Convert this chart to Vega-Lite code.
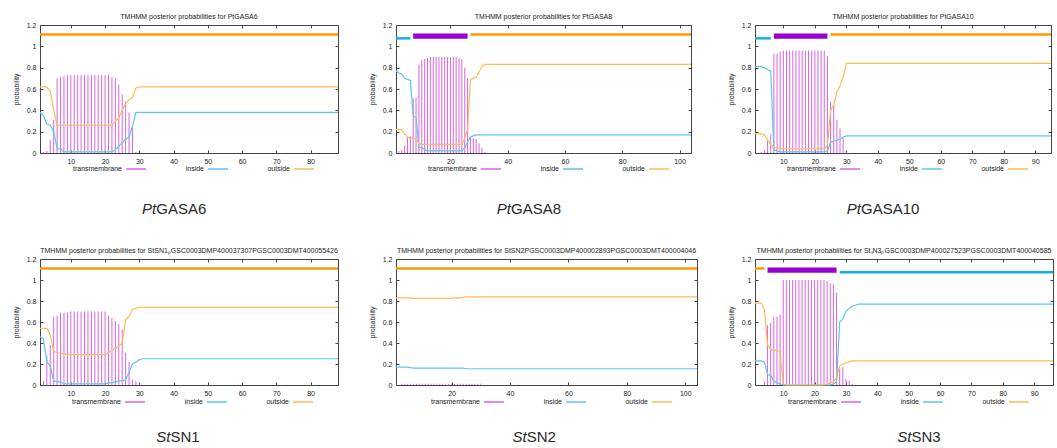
{
"$schema":"https://vega.github.io/schema/vega-lite/v6.json",
"padding":{"left":11,"top":12,"right":0,"bottom":0},
"background":"white",
"config":{
 "font":"Liberation Sans",
 "view":{"stroke":"#444","strokeWidth":1},
 "axis":{"labelFontSize":7,"labelColor":"#222","titleFontSize":7,"titleFontWeight":"normal","titleColor":"#222","domain":false,"grid":false,"tickColor":"#444","tickSize":-3,"labelPadding":7,"titlePadding":7},
 "title":{"fontSize":7,"fontWeight":"normal","color":"#222","offset":1},
 "legend":{"direction":"horizontal","symbolType":"stroke","symbolSize":400,"symbolStrokeWidth":1.5,"labelFontSize":7,"labelColor":"#222","columnPadding":36,"padding":0,"labelAlign":"right","labelOffset":-25}
},
"datasets":{
"caps":[{"p":"A","sp":"Pt","gene":"GASA6"},{"p":"B","sp":"Pt","gene":"GASA8"},{"p":"C","sp":"Pt","gene":"GASA10"},{"p":"D","sp":"St","gene":"SN1"},{"p":"E","sp":"St","gene":"SN2"},{"p":"F","sp":"St","gene":"SN3"}],
"segs":[
{"p":"A","kind":"outside","start":1,"end":88},
{"p":"B","kind":"inside","start":1,"end":6},{"p":"B","kind":"tm","start":7,"end":26},{"p":"B","kind":"outside","start":27,"end":104},
{"p":"C","kind":"inside","start":1,"end":6},{"p":"C","kind":"tm","start":7,"end":24},{"p":"C","kind":"outside","start":25,"end":95},
{"p":"D","kind":"outside","start":1,"end":88},
{"p":"E","kind":"outside","start":1,"end":104},
{"p":"F","kind":"outside","start":1,"end":4},{"p":"F","kind":"tm","start":5,"end":27},{"p":"F","kind":"inside","start":28,"end":96}
],
"prob":[
{"p":"A","x":1,"tm":0,"in":0.38,"out":0.62},{"p":"A","x":2,"tm":0.01,"in":0.35,"out":0.62},{"p":"A","x":3,"tm":0.02,"in":0.27,"out":0.62},{"p":"A","x":4,"tm":0.12,"in":0.26,"out":0.58},{"p":"A","x":5,"tm":0.31,"in":0.2,"out":0.4},{"p":"A","x":6,"tm":0.7,"in":0.04,"out":0.26},{"p":"A","x":7,"tm":0.71,"in":0.04,"out":0.26},{"p":"A","x":8,"tm":0.72,"in":0.01,"out":0.26},{"p":"A","x":9,"tm":0.73,"in":0.01,"out":0.26},{"p":"A","x":10,"tm":0.73,"in":0.01,"out":0.26},{"p":"A","x":11,"tm":0.73,"in":0.01,"out":0.26},{"p":"A","x":12,"tm":0.73,"in":0.01,"out":0.26},{"p":"A","x":13,"tm":0.73,"in":0.01,"out":0.26},{"p":"A","x":14,"tm":0.73,"in":0.01,"out":0.26},{"p":"A","x":15,"tm":0.73,"in":0.01,"out":0.26},{"p":"A","x":16,"tm":0.73,"in":0.01,"out":0.26},{"p":"A","x":17,"tm":0.73,"in":0.01,"out":0.26},{"p":"A","x":18,"tm":0.73,"in":0.01,"out":0.26},{"p":"A","x":19,"tm":0.73,"in":0.01,"out":0.26},{"p":"A","x":20,"tm":0.73,"in":0.01,"out":0.26},{"p":"A","x":21,"tm":0.73,"in":0.01,"out":0.26},{"p":"A","x":22,"tm":0.71,"in":0.01,"out":0.26},{"p":"A","x":23,"tm":0.7,"in":0.03,"out":0.3},{"p":"A","x":24,"tm":0.64,"in":0.06,"out":0.33},{"p":"A","x":25,"tm":0.55,"in":0.1,"out":0.4},{"p":"A","x":26,"tm":0.48,"in":0.13,"out":0.46},{"p":"A","x":27,"tm":0.38,"in":0.15,"out":0.5},{"p":"A","x":28,"tm":0.24,"in":0.25,"out":0.52},{"p":"A","x":29,"tm":0.01,"in":0.38,"out":0.61},{"p":"A","x":30,"tm":0,"in":0.38,"out":0.62},{"p":"A","x":88,"tm":0,"in":0.38,"out":0.62},
{"p":"B","x":1,"tm":0,"in":0.77,"out":0.22},{"p":"B","x":2,"tm":0.02,"in":0.75,"out":0.22},{"p":"B","x":3,"tm":0.03,"in":0.74,"out":0.22},{"p":"B","x":4,"tm":0.07,"in":0.7,"out":0.18},{"p":"B","x":5,"tm":0.15,"in":0.69,"out":0.15},{"p":"B","x":6,"tm":0.16,"in":0.68,"out":0.14},{"p":"B","x":7,"tm":0.51,"in":0.35,"out":0.14},{"p":"B","x":8,"tm":0.52,"in":0.33,"out":0.13},{"p":"B","x":9,"tm":0.83,"in":0.05,"out":0.09},{"p":"B","x":10,"tm":0.87,"in":0.05,"out":0.08},{"p":"B","x":11,"tm":0.88,"in":0.03,"out":0.08},{"p":"B","x":12,"tm":0.89,"in":0.02,"out":0.08},{"p":"B","x":13,"tm":0.9,"in":0.02,"out":0.08},{"p":"B","x":14,"tm":0.9,"in":0.02,"out":0.08},{"p":"B","x":15,"tm":0.9,"in":0.02,"out":0.08},{"p":"B","x":16,"tm":0.9,"in":0.02,"out":0.08},{"p":"B","x":17,"tm":0.9,"in":0.02,"out":0.08},{"p":"B","x":18,"tm":0.9,"in":0.02,"out":0.08},{"p":"B","x":19,"tm":0.9,"in":0.02,"out":0.08},{"p":"B","x":20,"tm":0.9,"in":0.02,"out":0.08},{"p":"B","x":21,"tm":0.9,"in":0.02,"out":0.08},{"p":"B","x":22,"tm":0.9,"in":0.02,"out":0.08},{"p":"B","x":23,"tm":0.89,"in":0.02,"out":0.08},{"p":"B","x":24,"tm":0.88,"in":0.02,"out":0.08},{"p":"B","x":25,"tm":0.8,"in":0.05,"out":0.14},{"p":"B","x":26,"tm":0.7,"in":0.1,"out":0.22},{"p":"B","x":27,"tm":0.15,"in":0.15,"out":0.69},{"p":"B","x":28,"tm":0.14,"in":0.16,"out":0.7},{"p":"B","x":29,"tm":0.13,"in":0.17,"out":0.71},{"p":"B","x":30,"tm":0.09,"in":0.17,"out":0.76},{"p":"B","x":31,"tm":0.05,"in":0.17,"out":0.81},{"p":"B","x":32,"tm":0.01,"in":0.17,"out":0.83},{"p":"B","x":33,"tm":0,"in":0.17,"out":0.83},{"p":"B","x":104,"tm":0,"in":0.17,"out":0.83},
{"p":"C","x":1,"tm":0,"in":0.81,"out":0.18},{"p":"C","x":2,"tm":0,"in":0.81,"out":0.18},{"p":"C","x":3,"tm":0.01,"in":0.81,"out":0.18},{"p":"C","x":4,"tm":0.03,"in":0.8,"out":0.17},{"p":"C","x":5,"tm":0.12,"in":0.78,"out":0.12},{"p":"C","x":6,"tm":0.17,"in":0.77,"out":0.08},{"p":"C","x":7,"tm":0.93,"in":0.03,"out":0.05},{"p":"C","x":8,"tm":0.93,"in":0.02,"out":0.05},{"p":"C","x":9,"tm":0.95,"in":0.01,"out":0.04},{"p":"C","x":10,"tm":0.96,"in":0.01,"out":0.04},{"p":"C","x":11,"tm":0.96,"in":0.01,"out":0.04},{"p":"C","x":12,"tm":0.96,"in":0.01,"out":0.04},{"p":"C","x":13,"tm":0.96,"in":0.01,"out":0.04},{"p":"C","x":14,"tm":0.96,"in":0.01,"out":0.04},{"p":"C","x":15,"tm":0.96,"in":0.01,"out":0.04},{"p":"C","x":16,"tm":0.96,"in":0.01,"out":0.04},{"p":"C","x":17,"tm":0.96,"in":0.01,"out":0.04},{"p":"C","x":18,"tm":0.96,"in":0.01,"out":0.04},{"p":"C","x":19,"tm":0.96,"in":0.01,"out":0.04},{"p":"C","x":20,"tm":0.96,"in":0.01,"out":0.04},{"p":"C","x":21,"tm":0.96,"in":0.01,"out":0.04},{"p":"C","x":22,"tm":0.96,"in":0.01,"out":0.04},{"p":"C","x":23,"tm":0.96,"in":0.01,"out":0.04},{"p":"C","x":24,"tm":0.91,"in":0.02,"out":0.07},{"p":"C","x":25,"tm":0.48,"in":0.1,"out":0.4},{"p":"C","x":26,"tm":0.45,"in":0.11,"out":0.45},{"p":"C","x":27,"tm":0.31,"in":0.12,"out":0.57},{"p":"C","x":28,"tm":0.23,"in":0.13,"out":0.63},{"p":"C","x":29,"tm":0.14,"in":0.15,"out":0.71},{"p":"C","x":30,"tm":0.01,"in":0.16,"out":0.84},{"p":"C","x":31,"tm":0,"in":0.16,"out":0.84},{"p":"C","x":95,"tm":0,"in":0.16,"out":0.84},
{"p":"D","x":1,"tm":0,"in":0.46,"out":0.54},{"p":"D","x":2,"tm":0.04,"in":0.44,"out":0.54},{"p":"D","x":3,"tm":0.28,"in":0.22,"out":0.54},{"p":"D","x":4,"tm":0.38,"in":0.18,"out":0.48},{"p":"D","x":5,"tm":0.65,"in":0.04,"out":0.32},{"p":"D","x":6,"tm":0.66,"in":0.03,"out":0.31},{"p":"D","x":7,"tm":0.69,"in":0.03,"out":0.3},{"p":"D","x":8,"tm":0.69,"in":0.01,"out":0.3},{"p":"D","x":9,"tm":0.69,"in":0.01,"out":0.29},{"p":"D","x":10,"tm":0.7,"in":0.01,"out":0.29},{"p":"D","x":11,"tm":0.7,"in":0.01,"out":0.29},{"p":"D","x":12,"tm":0.7,"in":0.01,"out":0.29},{"p":"D","x":13,"tm":0.7,"in":0.01,"out":0.29},{"p":"D","x":14,"tm":0.7,"in":0.01,"out":0.29},{"p":"D","x":15,"tm":0.7,"in":0.01,"out":0.29},{"p":"D","x":16,"tm":0.7,"in":0.01,"out":0.29},{"p":"D","x":17,"tm":0.7,"in":0.01,"out":0.29},{"p":"D","x":18,"tm":0.7,"in":0.01,"out":0.29},{"p":"D","x":19,"tm":0.7,"in":0.01,"out":0.29},{"p":"D","x":20,"tm":0.7,"in":0.01,"out":0.29},{"p":"D","x":21,"tm":0.66,"in":0.02,"out":0.31},{"p":"D","x":22,"tm":0.64,"in":0.02,"out":0.33},{"p":"D","x":23,"tm":0.61,"in":0.03,"out":0.35},{"p":"D","x":24,"tm":0.58,"in":0.04,"out":0.37},{"p":"D","x":25,"tm":0.53,"in":0.04,"out":0.4},{"p":"D","x":26,"tm":0.31,"in":0.05,"out":0.62},{"p":"D","x":27,"tm":0.22,"in":0.12,"out":0.65},{"p":"D","x":28,"tm":0.05,"in":0.2,"out":0.72},{"p":"D","x":29,"tm":0.04,"in":0.22,"out":0.73},{"p":"D","x":30,"tm":0.01,"in":0.24,"out":0.74},{"p":"D","x":31,"tm":0,"in":0.25,"out":0.74},{"p":"D","x":88,"tm":0,"in":0.25,"out":0.74},
{"p":"E","x":1,"tm":0,"in":0.17,"out":0.83},{"p":"E","x":2,"tm":0,"in":0.17,"out":0.83},{"p":"E","x":3,"tm":0.012,"in":0.17,"out":0.83},{"p":"E","x":4,"tm":0.012,"in":0.17,"out":0.83},{"p":"E","x":5,"tm":0.012,"in":0.17,"out":0.83},{"p":"E","x":6,"tm":0.012,"in":0.165,"out":0.83},{"p":"E","x":7,"tm":0.012,"in":0.16,"out":0.825},{"p":"E","x":8,"tm":0.012,"in":0.16,"out":0.825},{"p":"E","x":9,"tm":0.012,"in":0.16,"out":0.825},{"p":"E","x":10,"tm":0.012,"in":0.16,"out":0.825},{"p":"E","x":11,"tm":0.012,"in":0.16,"out":0.825},{"p":"E","x":12,"tm":0.012,"in":0.16,"out":0.825},{"p":"E","x":13,"tm":0.012,"in":0.16,"out":0.825},{"p":"E","x":14,"tm":0.012,"in":0.16,"out":0.825},{"p":"E","x":15,"tm":0.012,"in":0.16,"out":0.825},{"p":"E","x":16,"tm":0.012,"in":0.16,"out":0.825},{"p":"E","x":17,"tm":0.012,"in":0.16,"out":0.825},{"p":"E","x":18,"tm":0.012,"in":0.16,"out":0.825},{"p":"E","x":19,"tm":0.012,"in":0.16,"out":0.825},{"p":"E","x":20,"tm":0.012,"in":0.16,"out":0.825},{"p":"E","x":21,"tm":0.012,"in":0.16,"out":0.83},{"p":"E","x":22,"tm":0.012,"in":0.16,"out":0.83},{"p":"E","x":23,"tm":0.012,"in":0.16,"out":0.83},{"p":"E","x":24,"tm":0.012,"in":0.16,"out":0.835},{"p":"E","x":25,"tm":0.012,"in":0.155,"out":0.84},{"p":"E","x":26,"tm":0.012,"in":0.155,"out":0.84},{"p":"E","x":27,"tm":0.012,"in":0.155,"out":0.84},{"p":"E","x":28,"tm":0.012,"in":0.155,"out":0.84},{"p":"E","x":29,"tm":0.012,"in":0.155,"out":0.84},{"p":"E","x":30,"tm":0.012,"in":0.155,"out":0.84},{"p":"E","x":104,"tm":0,"in":0.155,"out":0.84},
{"p":"F","x":1,"tm":0,"in":0.23,"out":0.78},{"p":"F","x":2,"tm":0,"in":0.23,"out":0.78},{"p":"F","x":3,"tm":0,"in":0.23,"out":0.78},{"p":"F","x":4,"tm":0.035,"in":0.22,"out":0.72},{"p":"F","x":5,"tm":0.57,"in":0.1,"out":0.38},{"p":"F","x":6,"tm":0.59,"in":0.09,"out":0.34},{"p":"F","x":7,"tm":0.65,"in":0.04,"out":0.33},{"p":"F","x":8,"tm":0.65,"in":0.02,"out":0.33},{"p":"F","x":9,"tm":0.67,"in":0.01,"out":0.32},{"p":"F","x":10,"tm":1,"in":0,"out":0.01},{"p":"F","x":11,"tm":1,"in":0,"out":0},{"p":"F","x":12,"tm":1,"in":0,"out":0},{"p":"F","x":13,"tm":1,"in":0,"out":0},{"p":"F","x":14,"tm":1,"in":0,"out":0},{"p":"F","x":15,"tm":1,"in":0,"out":0},{"p":"F","x":16,"tm":1,"in":0,"out":0},{"p":"F","x":17,"tm":1,"in":0,"out":0},{"p":"F","x":18,"tm":1,"in":0,"out":0},{"p":"F","x":19,"tm":1,"in":0,"out":0},{"p":"F","x":20,"tm":1,"in":0,"out":0},{"p":"F","x":21,"tm":1,"in":0,"out":0},{"p":"F","x":22,"tm":1,"in":0,"out":0},{"p":"F","x":23,"tm":1,"in":0,"out":0},{"p":"F","x":24,"tm":0.99,"in":0,"out":0.01},{"p":"F","x":25,"tm":0.97,"in":0,"out":0.02},{"p":"F","x":26,"tm":0.96,"in":0.01,"out":0.03},{"p":"F","x":27,"tm":0.88,"in":0.03,"out":0.07},{"p":"F","x":28,"tm":0.16,"in":0.6,"out":0.18},{"p":"F","x":29,"tm":0.17,"in":0.63,"out":0.2},{"p":"F","x":30,"tm":0.06,"in":0.7,"out":0.21},{"p":"F","x":31,"tm":0.04,"in":0.73,"out":0.22},{"p":"F","x":32,"tm":0.01,"in":0.75,"out":0.23},{"p":"F","x":33,"tm":0,"in":0.76,"out":0.23},{"p":"F","x":34,"tm":0,"in":0.77,"out":0.23},{"p":"F","x":96,"tm":0,"in":0.77,"out":0.23}
]
},
"columns":3,
"align":"each",
"bounds":"flush",
"spacing":{"row":20,"column":58},
"resolve":{"scale":{"color":"independent"},"legend":{"color":"independent"}},
"concat":[
  {"width":298,"height":128,"title":"TMHMM posterior probabilities for PtGASA6","resolve":{"axis":{"x":"independent","y":"independent"}},"layer":[
   {"data":{"name":"prob"},"transform":[{"filter":"datum.p=='A'"}],"mark":{"type":"rule","strokeWidth":1},"encoding":{"x":{"field":"x","type":"quantitative","scale":{"domain":[1,88],"nice":false,"zero":false},"axis":{"values":[10,20,30,40,50,60,70,80],"title":null,"format":"d"}},"y":{"field":"tm","type":"quantitative","scale":{"domain":[0,1.2],"nice":false},"axis":{"values":[0,0.2,0.4,0.6,0.8,1,1.2],"format":"~g","title":"probability"}},"y2":{"datum":0},"color":{"datum":"transmembrane","type":"nominal","scale":{"domain":["transmembrane","inside","outside"],"range":["#d965e3","#5cc6ee","#ffbb55"]},"legend":{"title":null,"orient":"none","legendX":85,"legendY":133}}}},
   {"data":{"name":"prob"},"transform":[{"filter":"datum.p=='A'"}],"mark":{"type":"line","strokeWidth":1.2},"encoding":{"x":{"field":"x","type":"quantitative","axis":{"orient":"top","labels":false,"title":null,"values":[10,20,30,40,50,60,70,80]}},"y":{"field":"in","type":"quantitative","axis":{"orient":"right","labels":false,"title":null,"values":[0,0.2,0.4,0.6,0.8,1,1.2]}},"color":{"datum":"inside","type":"nominal"}}},
   {"data":{"name":"prob"},"transform":[{"filter":"datum.p=='A'"}],"mark":{"type":"line","strokeWidth":1.2},"encoding":{"x":{"field":"x","type":"quantitative","axis":null},"y":{"field":"out","type":"quantitative","axis":null},"color":{"datum":"outside","type":"nominal"}}},
   {"data":{"name":"segs"},"transform":[{"filter":"datum.p=='A' && datum.kind=='outside'"}],"mark":{"type":"rule","strokeWidth":2.5,"color":"#ff9900"},"encoding":{"x":{"field":"start","type":"quantitative","axis":null},"x2":{"field":"end"},"y":{"datum":1.11,"type":"quantitative","axis":null}}},
   {"data":{"name":"segs"},"transform":[{"filter":"datum.p=='A' && datum.kind=='inside'"}],"mark":{"type":"rule","strokeWidth":2.5,"color":"#14b0e4"},"encoding":{"x":{"field":"start","type":"quantitative","axis":null},"x2":{"field":"end"},"y":{"datum":1.075,"type":"quantitative","axis":null}}},
   {"data":{"name":"segs"},"transform":[{"filter":"datum.p=='A' && datum.kind=='tm'"}],"mark":{"type":"rect","color":"#9a00d0"},"encoding":{"x":{"field":"start","type":"quantitative","axis":null},"x2":{"field":"end"},"y":{"datum":1.07,"type":"quantitative","axis":null},"y2":{"datum":1.12}}}
  ]},
  {"width":295,"height":128,"title":"TMHMM posterior probabilities for PtGASA8","resolve":{"axis":{"x":"independent","y":"independent"}},"layer":[
   {"data":{"name":"prob"},"transform":[{"filter":"datum.p=='B'"}],"mark":{"type":"rule","strokeWidth":1},"encoding":{"x":{"field":"x","type":"quantitative","scale":{"domain":[1,104],"nice":false,"zero":false},"axis":{"values":[20,40,60,80,100],"title":null,"format":"d"}},"y":{"field":"tm","type":"quantitative","scale":{"domain":[0,1.2],"nice":false},"axis":{"values":[0,0.2,0.4,0.6,0.8,1,1.2],"format":"~g","title":"probability"}},"y2":{"datum":0},"color":{"datum":"transmembrane","type":"nominal","scale":{"domain":["transmembrane","inside","outside"],"range":["#d965e3","#5cc6ee","#ffbb55"]},"legend":{"title":null,"orient":"none","legendX":84,"legendY":133}}}},
   {"data":{"name":"prob"},"transform":[{"filter":"datum.p=='B'"}],"mark":{"type":"line","strokeWidth":1.2},"encoding":{"x":{"field":"x","type":"quantitative","axis":{"orient":"top","labels":false,"title":null,"values":[20,40,60,80,100]}},"y":{"field":"in","type":"quantitative","axis":{"orient":"right","labels":false,"title":null,"values":[0,0.2,0.4,0.6,0.8,1,1.2]}},"color":{"datum":"inside","type":"nominal"}}},
   {"data":{"name":"prob"},"transform":[{"filter":"datum.p=='B'"}],"mark":{"type":"line","strokeWidth":1.2},"encoding":{"x":{"field":"x","type":"quantitative","axis":null},"y":{"field":"out","type":"quantitative","axis":null},"color":{"datum":"outside","type":"nominal"}}},
   {"data":{"name":"segs"},"transform":[{"filter":"datum.p=='B' && datum.kind=='outside'"}],"mark":{"type":"rule","strokeWidth":2.5,"color":"#ff9900"},"encoding":{"x":{"field":"start","type":"quantitative","axis":null},"x2":{"field":"end"},"y":{"datum":1.11,"type":"quantitative","axis":null}}},
   {"data":{"name":"segs"},"transform":[{"filter":"datum.p=='B' && datum.kind=='inside'"}],"mark":{"type":"rule","strokeWidth":2.5,"color":"#14b0e4"},"encoding":{"x":{"field":"start","type":"quantitative","axis":null},"x2":{"field":"end"},"y":{"datum":1.075,"type":"quantitative","axis":null}}},
   {"data":{"name":"segs"},"transform":[{"filter":"datum.p=='B' && datum.kind=='tm'"}],"mark":{"type":"rect","color":"#9a00d0"},"encoding":{"x":{"field":"start","type":"quantitative","axis":null},"x2":{"field":"end"},"y":{"datum":1.07,"type":"quantitative","axis":null},"y2":{"datum":1.12}}}
  ]},
  {"width":296,"height":128,"title":"TMHMM posterior probabilities for PtGASA10","resolve":{"axis":{"x":"independent","y":"independent"}},"layer":[
   {"data":{"name":"prob"},"transform":[{"filter":"datum.p=='C'"}],"mark":{"type":"rule","strokeWidth":1},"encoding":{"x":{"field":"x","type":"quantitative","scale":{"domain":[1,95],"nice":false,"zero":false},"axis":{"values":[10,20,30,40,50,60,70,80,90],"title":null,"format":"d"}},"y":{"field":"tm","type":"quantitative","scale":{"domain":[0,1.2],"nice":false},"axis":{"values":[0,0.2,0.4,0.6,0.8,1,1.2],"format":"~g","title":"probability"}},"y2":{"datum":0},"color":{"datum":"transmembrane","type":"nominal","scale":{"domain":["transmembrane","inside","outside"],"range":["#d965e3","#5cc6ee","#ffbb55"]},"legend":{"title":null,"orient":"none","legendX":84,"legendY":133}}}},
   {"data":{"name":"prob"},"transform":[{"filter":"datum.p=='C'"}],"mark":{"type":"line","strokeWidth":1.2},"encoding":{"x":{"field":"x","type":"quantitative","axis":{"orient":"top","labels":false,"title":null,"values":[10,20,30,40,50,60,70,80,90]}},"y":{"field":"in","type":"quantitative","axis":{"orient":"right","labels":false,"title":null,"values":[0,0.2,0.4,0.6,0.8,1,1.2]}},"color":{"datum":"inside","type":"nominal"}}},
   {"data":{"name":"prob"},"transform":[{"filter":"datum.p=='C'"}],"mark":{"type":"line","strokeWidth":1.2},"encoding":{"x":{"field":"x","type":"quantitative","axis":null},"y":{"field":"out","type":"quantitative","axis":null},"color":{"datum":"outside","type":"nominal"}}},
   {"data":{"name":"segs"},"transform":[{"filter":"datum.p=='C' && datum.kind=='outside'"}],"mark":{"type":"rule","strokeWidth":2.5,"color":"#ff9900"},"encoding":{"x":{"field":"start","type":"quantitative","axis":null},"x2":{"field":"end"},"y":{"datum":1.11,"type":"quantitative","axis":null}}},
   {"data":{"name":"segs"},"transform":[{"filter":"datum.p=='C' && datum.kind=='inside'"}],"mark":{"type":"rule","strokeWidth":2.5,"color":"#14b0e4"},"encoding":{"x":{"field":"start","type":"quantitative","axis":null},"x2":{"field":"end"},"y":{"datum":1.075,"type":"quantitative","axis":null}}},
   {"data":{"name":"segs"},"transform":[{"filter":"datum.p=='C' && datum.kind=='tm'"}],"mark":{"type":"rect","color":"#9a00d0"},"encoding":{"x":{"field":"start","type":"quantitative","axis":null},"x2":{"field":"end"},"y":{"datum":1.07,"type":"quantitative","axis":null},"y2":{"datum":1.12}}}
  ]},
  {"width":298,"height":66,"view":{"stroke":null},"data":{"name":"caps"},"transform":[{"filter":"datum.p=='A'"}],"layer":[
   {"mark":{"type":"text","align":"right","fontStyle":"italic","fontSize":15,"color":"#2a2a2a","dy":3},"encoding":{"text":{"field":"sp"},"x":{"datum":0.39,"type":"quantitative","scale":{"domain":[0,1],"nice":false},"axis":null}}},
   {"mark":{"type":"text","align":"left","fontSize":15,"color":"#2a2a2a","dy":3},"encoding":{"text":{"field":"gene"},"x":{"datum":0.39,"type":"quantitative","axis":null}}}
  ]},
  {"width":295,"height":66,"view":{"stroke":null},"data":{"name":"caps"},"transform":[{"filter":"datum.p=='B'"}],"layer":[
   {"mark":{"type":"text","align":"right","fontStyle":"italic","fontSize":15,"color":"#2a2a2a","dy":3},"encoding":{"text":{"field":"sp"},"x":{"datum":0.39,"type":"quantitative","scale":{"domain":[0,1],"nice":false},"axis":null}}},
   {"mark":{"type":"text","align":"left","fontSize":15,"color":"#2a2a2a","dy":3},"encoding":{"text":{"field":"gene"},"x":{"datum":0.39,"type":"quantitative","axis":null}}}
  ]},
  {"width":296,"height":66,"view":{"stroke":null},"data":{"name":"caps"},"transform":[{"filter":"datum.p=='C'"}],"layer":[
   {"mark":{"type":"text","align":"right","fontStyle":"italic","fontSize":15,"color":"#2a2a2a","dy":3},"encoding":{"text":{"field":"sp"},"x":{"datum":0.358,"type":"quantitative","scale":{"domain":[0,1],"nice":false},"axis":null}}},
   {"mark":{"type":"text","align":"left","fontSize":15,"color":"#2a2a2a","dy":3},"encoding":{"text":{"field":"gene"},"x":{"datum":0.358,"type":"quantitative","axis":null}}}
  ]},
  {"width":298,"height":126,"title":"TMHMM posterior probabilities for StSN1ₚGSC0003DMP400037307PGSC0003DMT400055426","resolve":{"axis":{"x":"independent","y":"independent"}},"layer":[
   {"data":{"name":"prob"},"transform":[{"filter":"datum.p=='D'"}],"mark":{"type":"rule","strokeWidth":1},"encoding":{"x":{"field":"x","type":"quantitative","scale":{"domain":[1,88],"nice":false,"zero":false},"axis":{"values":[10,20,30,40,50,60,70,80],"title":null,"format":"d"}},"y":{"field":"tm","type":"quantitative","scale":{"domain":[0,1.2],"nice":false},"axis":{"values":[0,0.2,0.4,0.6,0.8,1,1.2],"format":"~g","title":"probability"}},"y2":{"datum":0},"color":{"datum":"transmembrane","type":"nominal","scale":{"domain":["transmembrane","inside","outside"],"range":["#d965e3","#5cc6ee","#ffbb55"]},"legend":{"title":null,"orient":"none","legendX":84,"legendY":132}}}},
   {"data":{"name":"prob"},"transform":[{"filter":"datum.p=='D'"}],"mark":{"type":"line","strokeWidth":1.2},"encoding":{"x":{"field":"x","type":"quantitative","axis":{"orient":"top","labels":false,"title":null,"values":[10,20,30,40,50,60,70,80]}},"y":{"field":"in","type":"quantitative","axis":{"orient":"right","labels":false,"title":null,"values":[0,0.2,0.4,0.6,0.8,1,1.2]}},"color":{"datum":"inside","type":"nominal"}}},
   {"data":{"name":"prob"},"transform":[{"filter":"datum.p=='D'"}],"mark":{"type":"line","strokeWidth":1.2},"encoding":{"x":{"field":"x","type":"quantitative","axis":null},"y":{"field":"out","type":"quantitative","axis":null},"color":{"datum":"outside","type":"nominal"}}},
   {"data":{"name":"segs"},"transform":[{"filter":"datum.p=='D' && datum.kind=='outside'"}],"mark":{"type":"rule","strokeWidth":2.5,"color":"#ff9900"},"encoding":{"x":{"field":"start","type":"quantitative","axis":null},"x2":{"field":"end"},"y":{"datum":1.11,"type":"quantitative","axis":null}}},
   {"data":{"name":"segs"},"transform":[{"filter":"datum.p=='D' && datum.kind=='inside'"}],"mark":{"type":"rule","strokeWidth":2.5,"color":"#14b0e4"},"encoding":{"x":{"field":"start","type":"quantitative","axis":null},"x2":{"field":"end"},"y":{"datum":1.075,"type":"quantitative","axis":null}}},
   {"data":{"name":"segs"},"transform":[{"filter":"datum.p=='D' && datum.kind=='tm'"}],"mark":{"type":"rect","color":"#9a00d0"},"encoding":{"x":{"field":"start","type":"quantitative","axis":null},"x2":{"field":"end"},"y":{"datum":1.07,"type":"quantitative","axis":null},"y2":{"datum":1.12}}}
  ]},
  {"width":301,"height":126,"title":"TMHMM posterior probabilities for StSN2PGSC0003DMP400002893PGSC0003DMT400004046","resolve":{"axis":{"x":"independent","y":"independent"}},"layer":[
   {"data":{"name":"prob"},"transform":[{"filter":"datum.p=='E'"}],"mark":{"type":"rule","strokeWidth":1},"encoding":{"x":{"field":"x","type":"quantitative","scale":{"domain":[1,104],"nice":false,"zero":false},"axis":{"values":[20,40,60,80,100],"title":null,"format":"d"}},"y":{"field":"tm","type":"quantitative","scale":{"domain":[0,1.2],"nice":false},"axis":{"values":[0,0.2,0.4,0.6,0.8,1,1.2],"format":"~g","title":"probability"}},"y2":{"datum":0},"color":{"datum":"transmembrane","type":"nominal","scale":{"domain":["transmembrane","inside","outside"],"range":["#d965e3","#5cc6ee","#ffbb55"]},"legend":{"title":null,"orient":"none","legendX":87,"legendY":132}}}},
   {"data":{"name":"prob"},"transform":[{"filter":"datum.p=='E'"}],"mark":{"type":"line","strokeWidth":1.2},"encoding":{"x":{"field":"x","type":"quantitative","axis":{"orient":"top","labels":false,"title":null,"values":[20,40,60,80,100]}},"y":{"field":"in","type":"quantitative","axis":{"orient":"right","labels":false,"title":null,"values":[0,0.2,0.4,0.6,0.8,1,1.2]}},"color":{"datum":"inside","type":"nominal"}}},
   {"data":{"name":"prob"},"transform":[{"filter":"datum.p=='E'"}],"mark":{"type":"line","strokeWidth":1.2},"encoding":{"x":{"field":"x","type":"quantitative","axis":null},"y":{"field":"out","type":"quantitative","axis":null},"color":{"datum":"outside","type":"nominal"}}},
   {"data":{"name":"segs"},"transform":[{"filter":"datum.p=='E' && datum.kind=='outside'"}],"mark":{"type":"rule","strokeWidth":2.5,"color":"#ff9900"},"encoding":{"x":{"field":"start","type":"quantitative","axis":null},"x2":{"field":"end"},"y":{"datum":1.11,"type":"quantitative","axis":null}}},
   {"data":{"name":"segs"},"transform":[{"filter":"datum.p=='E' && datum.kind=='inside'"}],"mark":{"type":"rule","strokeWidth":2.5,"color":"#14b0e4"},"encoding":{"x":{"field":"start","type":"quantitative","axis":null},"x2":{"field":"end"},"y":{"datum":1.075,"type":"quantitative","axis":null}}},
   {"data":{"name":"segs"},"transform":[{"filter":"datum.p=='E' && datum.kind=='tm'"}],"mark":{"type":"rect","color":"#9a00d0"},"encoding":{"x":{"field":"start","type":"quantitative","axis":null},"x2":{"field":"end"},"y":{"datum":1.07,"type":"quantitative","axis":null},"y2":{"datum":1.12}}}
  ]},
  {"width":298,"height":126,"title":"TMHMM posterior probabilities for StₛN3ₚGSC0003DMP400027523PGSC0003DMT400040585","resolve":{"axis":{"x":"independent","y":"independent"}},"layer":[
   {"data":{"name":"prob"},"transform":[{"filter":"datum.p=='F'"}],"mark":{"type":"rule","strokeWidth":1},"encoding":{"x":{"field":"x","type":"quantitative","scale":{"domain":[1,96],"nice":false,"zero":false},"axis":{"values":[10,20,30,40,50,60,70,80,90],"title":null,"format":"d"}},"y":{"field":"tm","type":"quantitative","scale":{"domain":[0,1.2],"nice":false},"axis":{"values":[0,0.2,0.4,0.6,0.8,1,1.2],"format":"~g","title":"probability"}},"y2":{"datum":0},"color":{"datum":"transmembrane","type":"nominal","scale":{"domain":["transmembrane","inside","outside"],"range":["#d965e3","#5cc6ee","#ffbb55"]},"legend":{"title":null,"orient":"none","legendX":85,"legendY":132}}}},
   {"data":{"name":"prob"},"transform":[{"filter":"datum.p=='F'"}],"mark":{"type":"line","strokeWidth":1.2},"encoding":{"x":{"field":"x","type":"quantitative","axis":{"orient":"top","labels":false,"title":null,"values":[10,20,30,40,50,60,70,80,90]}},"y":{"field":"in","type":"quantitative","axis":{"orient":"right","labels":false,"title":null,"values":[0,0.2,0.4,0.6,0.8,1,1.2]}},"color":{"datum":"inside","type":"nominal"}}},
   {"data":{"name":"prob"},"transform":[{"filter":"datum.p=='F'"}],"mark":{"type":"line","strokeWidth":1.2},"encoding":{"x":{"field":"x","type":"quantitative","axis":null},"y":{"field":"out","type":"quantitative","axis":null},"color":{"datum":"outside","type":"nominal"}}},
   {"data":{"name":"segs"},"transform":[{"filter":"datum.p=='F' && datum.kind=='outside'"}],"mark":{"type":"rule","strokeWidth":2.5,"color":"#ff9900"},"encoding":{"x":{"field":"start","type":"quantitative","axis":null},"x2":{"field":"end"},"y":{"datum":1.11,"type":"quantitative","axis":null}}},
   {"data":{"name":"segs"},"transform":[{"filter":"datum.p=='F' && datum.kind=='inside'"}],"mark":{"type":"rule","strokeWidth":2.5,"color":"#14b0e4"},"encoding":{"x":{"field":"start","type":"quantitative","axis":null},"x2":{"field":"end"},"y":{"datum":1.075,"type":"quantitative","axis":null}}},
   {"data":{"name":"segs"},"transform":[{"filter":"datum.p=='F' && datum.kind=='tm'"}],"mark":{"type":"rect","color":"#9a00d0"},"encoding":{"x":{"field":"start","type":"quantitative","axis":null},"x2":{"field":"end"},"y":{"datum":1.07,"type":"quantitative","axis":null},"y2":{"datum":1.12}}}
  ]},
  {"width":298,"height":15,"view":{"stroke":null},"data":{"name":"caps"},"transform":[{"filter":"datum.p=='D'"}],"layer":[
   {"mark":{"type":"text","align":"right","fontStyle":"italic","fontSize":15,"color":"#2a2a2a","dy":24},"encoding":{"text":{"field":"sp"},"x":{"datum":0.438,"type":"quantitative","scale":{"domain":[0,1],"nice":false},"axis":null}}},
   {"mark":{"type":"text","align":"left","fontSize":15,"color":"#2a2a2a","dy":24},"encoding":{"text":{"field":"gene"},"x":{"datum":0.438,"type":"quantitative","axis":null}}}
  ]},
  {"width":301,"height":15,"view":{"stroke":null},"data":{"name":"caps"},"transform":[{"filter":"datum.p=='E'"}],"layer":[
   {"mark":{"type":"text","align":"right","fontStyle":"italic","fontSize":15,"color":"#2a2a2a","dy":24},"encoding":{"text":{"field":"sp"},"x":{"datum":0.434,"type":"quantitative","scale":{"domain":[0,1],"nice":false},"axis":null}}},
   {"mark":{"type":"text","align":"left","fontSize":15,"color":"#2a2a2a","dy":24},"encoding":{"text":{"field":"gene"},"x":{"datum":0.434,"type":"quantitative","axis":null}}}
  ]},
  {"width":298,"height":15,"view":{"stroke":null},"data":{"name":"caps"},"transform":[{"filter":"datum.p=='F'"}],"layer":[
   {"mark":{"type":"text","align":"right","fontStyle":"italic","fontSize":15,"color":"#2a2a2a","dy":24},"encoding":{"text":{"field":"sp"},"x":{"datum":0.525,"type":"quantitative","scale":{"domain":[0,1],"nice":false},"axis":null}}},
   {"mark":{"type":"text","align":"left","fontSize":15,"color":"#2a2a2a","dy":24},"encoding":{"text":{"field":"gene"},"x":{"datum":0.525,"type":"quantitative","axis":null}}}
  ]}
]
}
